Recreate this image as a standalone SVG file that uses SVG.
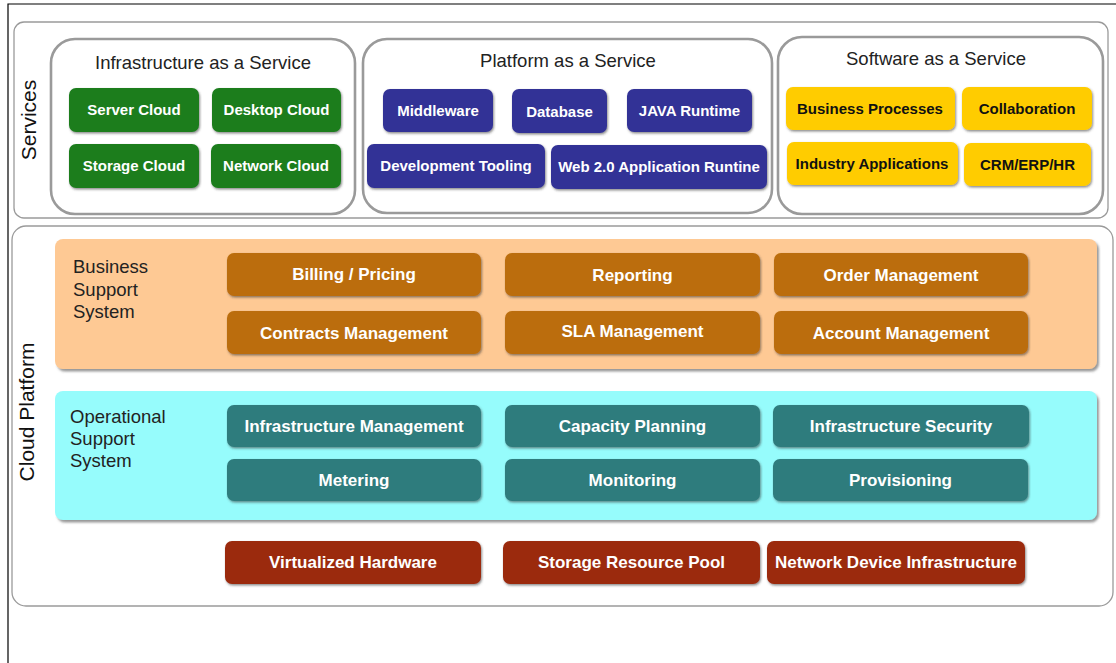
<svg xmlns="http://www.w3.org/2000/svg" width="1116" height="663" viewBox="0 0 1116 663">
<defs>
<filter id="sh" x="-5%" y="-10%" width="110%" height="130%">
<feDropShadow dx="1" dy="1.5" stdDeviation="0.8" flood-color="#333" flood-opacity="0.55"/>
</filter>
<filter id="psh" x="-2%" y="-5%" width="104%" height="112%">
<feDropShadow dx="2" dy="2.5" stdDeviation="1" flood-color="#555" flood-opacity="0.6"/>
</filter>
</defs>
<style>
.frame{fill:none;stroke:#000;stroke-width:1.2}
.outer{fill:#fff;stroke:#9a9a9a;stroke-width:1.3}
.grp{fill:#fff;stroke:#9a9a9a;stroke-width:2.6}
.title{font-family:"Liberation Sans",Arial,sans-serif;font-size:18.5px;fill:#222;text-anchor:middle}
.side{font-family:"Liberation Sans",Arial,sans-serif;font-size:21px;fill:#111;text-anchor:middle}
.plabel{font-family:"Liberation Sans",Arial,sans-serif;font-size:18.5px;fill:#222}
.box{filter:url(#sh)}
.lbl{font-family:"Liberation Sans",Arial,sans-serif;font-size:15px;font-weight:bold;fill:#fff;text-anchor:middle}
.big{font-size:17px}
.dark{fill:#111}
.green{fill:#1b7d1f}
.navy{fill:#323296}
.yellow{fill:#ffcc00}
.brown{fill:#bb6d08}
.teal{fill:#2f7b7d}
.red{fill:#9b2a0a}
.orangep{fill:#fec994;filter:url(#psh)}
.cyanp{fill:#96fcfc;filter:url(#psh)}
</style>

<path class="frame" d="M8,663 V4 H1116"/>

<g id="services">
<rect class="outer" x="14" y="22" width="1094" height="196" rx="10"/>
<text class="side" transform="translate(36,120) rotate(-90)">Services</text>
</g>

<g id="iaas">
<rect class="grp" x="51" y="39" width="304" height="175" rx="24"/>
<text class="title" x="203" y="69">Infrastructure as a Service</text>
</g>
<g id="server-cloud"><rect class="box green" x="69" y="88" width="130" height="44" rx="7"/><text class="lbl" x="134" y="115">Server Cloud</text></g>
<g id="desktop-cloud"><rect class="box green" x="212" y="88" width="129" height="44" rx="7"/><text class="lbl" x="276.5" y="115">Desktop Cloud</text></g>
<g id="storage-cloud"><rect class="box green" x="69" y="144" width="130" height="44" rx="7"/><text class="lbl" x="134" y="171">Storage Cloud</text></g>
<g id="network-cloud"><rect class="box green" x="211" y="144" width="130" height="44" rx="7"/><text class="lbl" x="276" y="171">Network Cloud</text></g>

<g id="paas">
<rect class="grp" x="363" y="39" width="409" height="174" rx="24"/>
<text class="title" x="568" y="67">Platform as a Service</text>
</g>
<g id="middleware"><rect class="box navy" x="383" y="89" width="110" height="43" rx="7"/><text class="lbl" x="438" y="116">Middleware</text></g>
<g id="database"><rect class="box navy" x="512" y="89" width="95" height="44" rx="7"/><text class="lbl" x="559.5" y="117">Database</text></g>
<g id="java-runtime"><rect class="box navy" x="627" y="89" width="125" height="43" rx="7"/><text class="lbl" x="689.5" y="116">JAVA Runtime</text></g>
<g id="dev-tooling"><rect class="box navy" x="367" y="144" width="178" height="44" rx="7"/><text class="lbl" x="456" y="171">Development Tooling</text></g>
<g id="web20"><rect class="box navy" x="551" y="145" width="216" height="44" rx="7"/><text class="lbl" x="659" y="172">Web 2.0 Application Runtine</text></g>

<g id="saas">
<rect class="grp" x="778" y="37" width="325" height="177" rx="24"/>
<text class="title" x="936" y="65">Software as a Service</text>
</g>
<g id="business-processes"><rect class="box yellow" x="786" y="87" width="169" height="43" rx="7"/><text class="lbl dark" x="870" y="114">Business Processes</text></g>
<g id="collaboration"><rect class="box yellow" x="962" y="87" width="130" height="43" rx="7"/><text class="lbl dark" x="1027" y="114">Collaboration</text></g>
<g id="industry-apps"><rect class="box yellow" x="787" y="142" width="171" height="43" rx="7"/><text class="lbl dark" x="872" y="169">Industry Applications</text></g>
<g id="crm"><rect class="box yellow" x="964" y="143" width="127" height="43" rx="7"/><text class="lbl dark" x="1027.5" y="170">CRM/ERP/HR</text></g>

<g id="cloud-platform">
<rect class="outer" x="12" y="226" width="1101" height="380" rx="14"/>
<text class="side" transform="translate(34,412) rotate(-90)">Cloud Platform</text>
</g>

<g id="bss">
<rect class="orangep" x="55" y="239" width="1042" height="130" rx="8"/>
<text class="plabel" x="73" y="273">Business</text>
<text class="plabel" x="73" y="296">Support</text>
<text class="plabel" x="73" y="318">System</text>
</g>
<g id="billing"><rect class="box brown" x="227" y="253" width="254" height="43" rx="7"/><text class="lbl big" x="354" y="280">Billing / Pricing</text></g>
<g id="reporting"><rect class="box brown" x="505" y="253" width="255" height="43" rx="7"/><text class="lbl big" x="632.5" y="281">Reporting</text></g>
<g id="order-mgmt"><rect class="box brown" x="774" y="253" width="254" height="43" rx="7"/><text class="lbl big" x="901" y="281">Order Management</text></g>
<g id="contracts-mgmt"><rect class="box brown" x="227" y="311" width="254" height="43" rx="7"/><text class="lbl big" x="354" y="339">Contracts Management</text></g>
<g id="sla-mgmt"><rect class="box brown" x="505" y="311" width="255" height="43" rx="7"/><text class="lbl big" x="632.5" y="337">SLA Management</text></g>
<g id="account-mgmt"><rect class="box brown" x="774" y="311" width="254" height="43" rx="7"/><text class="lbl big" x="901" y="339">Account Management</text></g>

<g id="oss">
<rect class="cyanp" x="55" y="391" width="1042" height="129" rx="8"/>
<text class="plabel" x="70" y="423">Operational</text>
<text class="plabel" x="70" y="445">Support</text>
<text class="plabel" x="70" y="467">System</text>
</g>
<g id="infra-mgmt"><rect class="box teal" x="227" y="405" width="254" height="42" rx="7"/><text class="lbl big" x="354" y="432">Infrastructure Management</text></g>
<g id="capacity"><rect class="box teal" x="505" y="405" width="255" height="42" rx="7"/><text class="lbl big" x="632.5" y="432">Capacity Planning</text></g>
<g id="infra-sec"><rect class="box teal" x="773" y="405" width="256" height="42" rx="7"/><text class="lbl big" x="901" y="432">Infrastructure Security</text></g>
<g id="metering"><rect class="box teal" x="227" y="459" width="254" height="42" rx="7"/><text class="lbl big" x="354" y="486">Metering</text></g>
<g id="monitoring"><rect class="box teal" x="505" y="459" width="255" height="42" rx="7"/><text class="lbl big" x="632.5" y="486">Monitoring</text></g>
<g id="provisioning"><rect class="box teal" x="773" y="459" width="255" height="42" rx="7"/><text class="lbl big" x="900.5" y="486">Provisioning</text></g>

<g id="virt-hw"><rect class="box red" x="225" y="541" width="256" height="43" rx="7"/><text class="lbl big" x="353" y="568">Virtualized Hardware</text></g>
<g id="storage-pool"><rect class="box red" x="503" y="541" width="257" height="43" rx="7"/><text class="lbl big" x="631.5" y="568">Storage Resource Pool</text></g>
<g id="network-infra"><rect class="box red" x="767" y="541" width="258" height="43" rx="7"/><text class="lbl big" x="896" y="568">Network Device Infrastructure</text></g>

<g id="connectors"></g>
</svg>
